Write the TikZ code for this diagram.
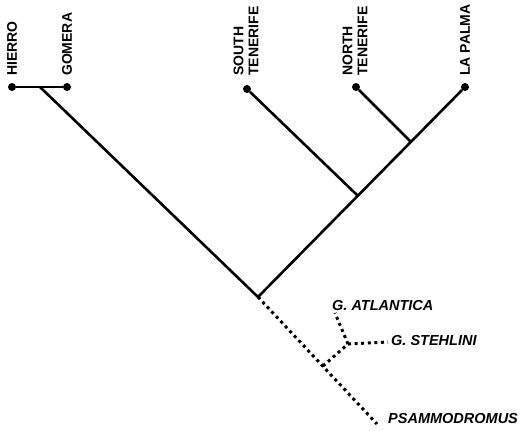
\documentclass[tikz,border=0pt]{standalone}
\usepackage{fontspec}
\setmainfont{Liberation Sans}
\usetikzlibrary{positioning}

\begin{document}
\begin{tikzpicture}[x=1pt, y=-1pt,
tipnode/.style={circle, fill=black, inner sep=0pt, minimum size=8pt},
islandlabel/.style={rotate=90, anchor=west, align=left, inner sep=0pt, font=\fontsize{14}{15}\selectfont\bfseries},
taxonlabel/.style={inner sep=0pt, font=\fontsize{14.5}{15}\selectfont\bfseries\itshape},
branch/.style={line width=2.6pt},
fossilbranch/.style={line width=3pt, dash pattern=on 3pt off 3.6pt},
]
\useasboundingbox (0,0) rectangle (525,431);

%Nodes
\node[tipnode]      (hierro)      at (12,87)   {};
\node[tipnode]      (gomera)      at (67,87)   {};
\node[tipnode]      (southT)      at (247,89)  {};
\node[tipnode]      (northT)      at (356,87)  {};
\node[tipnode]      (laPalma)     at (465,87)  {};
\coordinate         (hierroGomera)  at (40,87);
\coordinate         (northLaPalma)  at (411,142);
\coordinate         (tenerife)      at (357,195);
\coordinate         (root)          at (258,297);
\coordinate         (psamEnd)       at (377,424);
\coordinate         (gallotia)      at (323,366);
\coordinate         (atlStehl)      at (348,344);
\coordinate         (atlEnd)        at (335,313);
\coordinate         (stehlEnd)      at (388,342);

%Labels
\node[islandlabel]  (hierroL)     at ([yshift=11pt]hierro)     {HIERRO};
\node[islandlabel]  (gomeraL)     at ([yshift=11pt]gomera)     {GOMERA};
\node[islandlabel]  (southTL)     at ([xshift=-1pt, yshift=13pt]southT) {SOUTH\\TENERIFE};
\node[islandlabel]  (northTL)     at ([xshift=-1pt, yshift=11pt]northT) {NORTH\\TENERIFE};
\node[islandlabel]  (laPalmaL)    at ([yshift=11pt]laPalma)    {LA PALMA};
\node[taxonlabel, anchor=base west]  (atlL)    at ([xshift=-3pt, yshift=3pt]atlEnd) {G. ATLANTICA};
\node[taxonlabel, anchor=west]       (stehlL)  at ([xshift=3pt, yshift=1pt]stehlEnd) {G. STEHLINI};
\node[taxonlabel, anchor=west]       (psamL)   at ([xshift=11pt, yshift=5pt]psamEnd) {PSAMMODROMUS};

%Lines
\draw[branch] (hierro) -- (gomera);
\draw[branch] (hierroGomera) -- (root);
\draw[branch] (southT) -- (tenerife);
\draw[branch] (northT) -- (northLaPalma);
\draw[branch] (laPalma) -- (root);
\draw[fossilbranch] (root) -- (psamEnd);
\draw[fossilbranch] (gallotia) -- (atlStehl);
\draw[fossilbranch] (atlStehl) -- (atlEnd);
\draw[fossilbranch] (atlStehl) -- (stehlEnd);

\end{tikzpicture}
\end{document}
